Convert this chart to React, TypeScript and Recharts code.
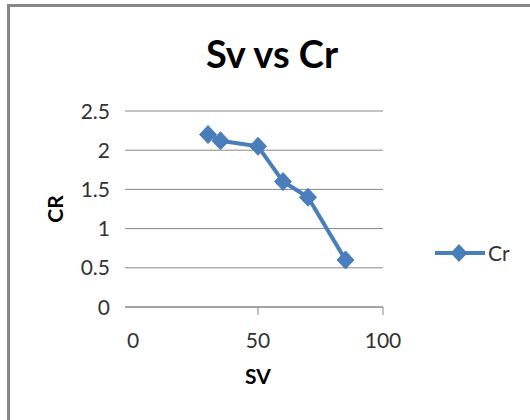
import React from "react";
import { LineChart, Line, XAxis, YAxis, CartesianGrid, Legend, Label } from "recharts";

const svValues = [30, 35, 50, 60, 70, 85];
const crValues = [2.2, 2.12, 2.05, 1.6, 1.4, 0.6];
const xTicks = [0, 50, 100];
const yTicks = [0, 0.5, 1, 1.5, 2, 2.5];
const seriesName = "Cr";
const titleText = "Sv vs Cr";
const xTitle = "SV";
const yTitle = "CR";

const data = svValues.map((sv, i) => ({ sv, cr: crValues[i] }));

const BLUE = "#4a7ebb";
const GRID = "#878787";
const TEXT = "#333333";
const FONT = "Lato, 'Open Sans', sans-serif";

const Diamond = (props: any) => {
  const { cx, cy } = props;
  if (cx == null || cy == null) return null;
  return (
    <path
      d={`M${cx},${cy - 9}L${cx + 8.5},${cy}L${cx},${cy + 9}L${cx - 8.5},${cy}Z`}
      fill={BLUE}
      stroke={BLUE}
      strokeWidth={1}
    />
  );
};

const XTick = (props: any) => {
  const { x, y, payload } = props;
  return (
    <g>
      {payload.value !== 0 && <line x1={x} x2={x} y1={y} y2={y + 8} stroke={GRID} strokeWidth={1} />}
      <text x={x} y={y + 40.5} textAnchor="middle" fill={TEXT} fontSize={21} fontFamily={FONT}>
        {payload.value}
      </text>
    </g>
  );
};

const YTick = (props: any) => {
  const { x, y, payload } = props;
  return (
    <text x={x} y={y + 7.5} textAnchor="end" fill={TEXT} fontSize={21} fontFamily={FONT}>
      {payload.value}
    </text>
  );
};

const LegendContent = () => (
  <svg width={90} height={30}>
    <line x1={5} x2={55} y1={15} y2={15} stroke={BLUE} strokeWidth={4} />
    <path d="M29,6L37.5,15L29,24L20.5,15Z" fill={BLUE} />
    <text x={58} y={22.5} fill={TEXT} fontSize={21} fontFamily={FONT}>
      {seriesName}
    </text>
  </svg>
);

export default function App() {
  return (
    <div style={{ position: "absolute", left: 0, top: 0, width: 530, height: 420, overflow: "hidden", background: "#fff" }}>
      <div
        style={{
          position: "absolute",
          left: 7,
          top: 4,
          width: 600,
          height: 500,
          borderLeft: `3px solid ${GRID}`,
          borderTop: `3px solid ${GRID}`,
          boxSizing: "border-box",
        }}
      />
      <svg width={530} height={420} style={{ position: "absolute", left: 0, top: 0, pointerEvents: "none" }}>
        <text x={272} y={68} textAnchor="middle" fontSize={38} fontWeight="bold" fontFamily={FONT} fill="#000">
          {titleText}
        </text>
      </svg>
      <div style={{ position: "absolute", left: 0, top: 0 }}>
        <LineChart width={530} height={420} data={data} margin={{ top: 111, right: 147, bottom: 53, left: 65 }}>
          <CartesianGrid vertical={false} stroke={GRID} strokeWidth={1} horizontalValues={yTicks} />
          <XAxis
            dataKey="sv"
            type="number"
            domain={[-3.2, 100]}
            ticks={xTicks}
            allowDataOverflow
            height={60}
            tickSize={0}
            tickMargin={0}
            axisLine={{ stroke: GRID, strokeWidth: 1 }}
            tickLine={false}
            tick={<XTick />}
            interval={0}
          >
            <Label
              content={() => (
                <text x={258} y={384} textAnchor="middle" fontSize={21} fontWeight="bold" fontFamily={FONT} fill="#000">
                  {xTitle}
                </text>
              )}
            />
          </XAxis>
          <YAxis
            type="number"
            domain={[0, 2.5]}
            ticks={yTicks}
            width={60}
            tickSize={0}
            tickMargin={15}
            axisLine={false}
            tickLine={false}
            tick={<YTick />}
            interval={0}
          >
            <Label
              content={() => (
                <text
                  x={0}
                  y={0}
                  transform="translate(63,209) rotate(-90)"
                  textAnchor="middle"
                  fontSize={21}
                  fontWeight="bold"
                  fontFamily={FONT}
                  fill="#000"
                >
                  {yTitle}
                </text>
              )}
            />
          </YAxis>
          <Legend
            layout="horizontal"
            verticalAlign="middle"
            align="center"
            content={<LegendContent />}
            wrapperStyle={{ left: 430, top: 238, width: 90, height: 30 }}
          />
          <Line
            type="linear"
            dataKey="cr"
            name={seriesName}
            stroke={BLUE}
            strokeWidth={4}
            dot={<Diamond />}
            activeDot={false}
            isAnimationActive={false}
          />
        </LineChart>
      </div>
    </div>
  );
}
